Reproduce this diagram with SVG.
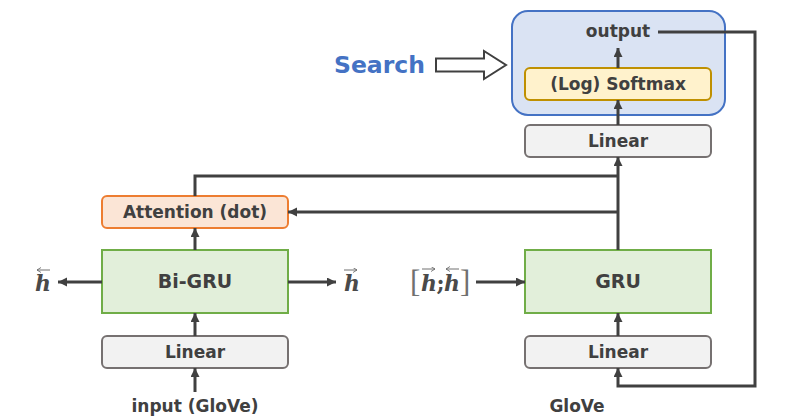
<svg xmlns="http://www.w3.org/2000/svg" width="786" height="420" viewBox="0 0 786 420">
<defs>
<marker id="ah" markerUnits="userSpaceOnUse" markerWidth="10" markerHeight="10" refX="9" refY="4.5" orient="auto">
<path d="M0,0 L9,4.5 L0,9 z" fill="#404040"/>
</marker>
<marker id="acc" markerUnits="userSpaceOnUse" markerWidth="6" markerHeight="6" refX="4" refY="2.5" orient="auto">
<path d="M0,0 L4,2.5 L0,5" fill="none" stroke="#606060" stroke-width="0.8"/>
</marker>
</defs>
<style>
.lbl{font-family:"DejaVu Sans",Verdana,sans-serif;font-weight:bold;font-size:17px;fill:#404040;text-anchor:middle}
.big{font-size:19px}
.gray{fill:#F2F2F2;stroke:#767171;stroke-width:2}
.green{fill:#E2EFDA;stroke:#70AD47;stroke-width:2}
.orange{fill:#FBE5D6;stroke:#ED7D31;stroke-width:2}
.yellow{fill:#FFF2CC;stroke:#BF9000;stroke-width:2}
.blue{fill:#DAE3F3;stroke:#4472C4;stroke-width:2}
.conn{fill:none;stroke:#404040;stroke-width:3}
.math{font-family:"DejaVu Serif",serif;font-weight:bold;font-style:italic;font-size:22px;fill:#4a4a4a}
.brk{font-family:"Liberation Serif",serif;font-weight:normal;font-style:normal;font-size:31px;fill:#707070}
.semi{font-style:normal}
.accent{fill:none;stroke:#606060;stroke-width:0.9}
</style>
<rect width="786" height="420" fill="#ffffff"/>

<g id="output-block">
<rect class="blue" x="512" y="11" width="213" height="104" rx="16"/>
<text class="lbl" x="618" y="37">output</text>
</g>
<g id="softmax">
<rect class="yellow" x="525" y="68" width="186" height="32" rx="5"/>
<text class="lbl" x="618" y="90">(Log) Softmax</text>
</g>
<g id="search">
<text x="334" y="73" style="font-family:'DejaVu Sans',Verdana,sans-serif;font-weight:bold;font-size:23.5px;fill:#4472C4">Search</text>
<polygon points="436,58.5 484,58.5 484,51 506,65 484,79 484,71.5 436,71.5" fill="#ffffff" stroke="#404040" stroke-width="2"/>
</g>
<g id="linear-out">
<rect class="gray" x="525" y="125" width="186" height="32" rx="5"/>
<text class="lbl" x="618" y="147">Linear</text>
</g>
<g id="attention">
<rect class="orange" x="102" y="196" width="186" height="32" rx="5"/>
<text class="lbl" x="195" y="218">Attention (dot)</text>
</g>
<g id="bigru">
<rect class="green" x="102" y="250" width="186" height="63"/>
<text class="lbl big" x="195" y="288">Bi-GRU</text>
</g>
<g id="linear-enc">
<rect class="gray" x="102" y="336" width="186" height="32" rx="5"/>
<text class="lbl" x="195" y="358">Linear</text>
</g>
<g id="input">
<text class="lbl" x="195" y="412">input (GloVe)</text>
</g>
<g id="gru">
<rect class="green" x="525" y="250" width="186" height="63"/>
<text class="lbl big" x="618" y="288">GRU</text>
</g>
<g id="linear-dec">
<rect class="gray" x="525" y="336" width="186" height="32" rx="5"/>
<text class="lbl" x="618" y="358">Linear</text>
</g>
<g id="glove">
<text class="lbl" x="577" y="412">GloVe</text>
</g>
<g id="h-back">
<text class="math" x="35" y="291">h</text>
<path class="accent" d="M50,270 L37,270" marker-end="url(#acc)"/>
</g>
<g id="h-fwd">
<text class="math" x="344" y="291">h</text>
<path class="accent" d="M344,270 L357,270" marker-end="url(#acc)"/>
</g>
<g id="h-concat">
<text class="math"><tspan class="brk" x="410" y="292">[</tspan><tspan x="421" y="291">h</tspan><tspan class="semi" x="436.5" y="291">;</tspan><tspan x="444" y="291">h</tspan><tspan class="brk" x="460" y="292">]</tspan></text>
<path class="accent" d="M422,269 L435,269" marker-end="url(#acc)"/>
<path class="accent" d="M459,269 L446,269" marker-end="url(#acc)"/>
</g>

<g id="connectors">
<path class="conn" d="M195,392 V368" marker-end="url(#ah)"/>
<path class="conn" d="M195,336 V313" marker-end="url(#ah)"/>
<path class="conn" d="M195,250 V228" marker-end="url(#ah)"/>
<path class="conn" d="M102,282 H58" marker-end="url(#ah)"/>
<path class="conn" d="M288,282 H336" marker-end="url(#ah)"/>
<path class="conn" d="M195,196 V176 H618"/>
<path class="conn" d="M618,212 H288" marker-end="url(#ah)"/>
<path class="conn" d="M618,250 V157" marker-end="url(#ah)"/>
<path class="conn" d="M618,125 V100" marker-end="url(#ah)"/>
<path class="conn" d="M618,68 V48" marker-end="url(#ah)"/>
<path class="conn" d="M658,32 H755 V386 H618 V368" marker-end="url(#ah)"/>
<path class="conn" d="M476,282 H525" marker-end="url(#ah)"/>
<path class="conn" d="M618,336 V313" marker-end="url(#ah)"/>
</g>
</svg>
